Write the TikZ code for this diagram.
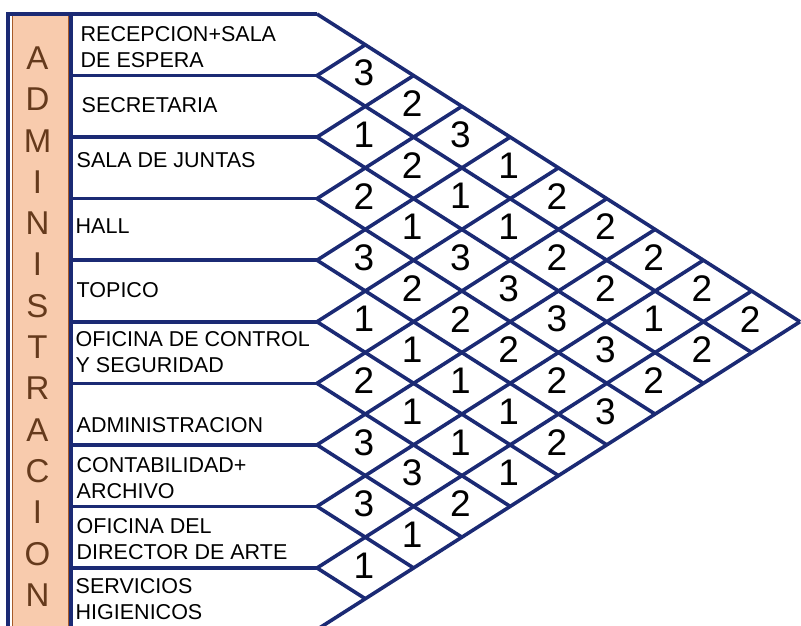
\documentclass[tikz,border=0pt]{standalone}
\usepackage{fontspec}
\setmainfont{Liberation Sans}
\definecolor{navy}{HTML}{1B2A74}
\definecolor{peach}{HTML}{F8CBAD}
\definecolor{rust}{HTML}{A65A28}
\definecolor{brownletter}{HTML}{653A1C}
\tikzset{
  grid/.style={draw=navy, line width=3.6pt, line join=miter},
  lab/.style={anchor=west, align=left, inner sep=0pt, font=\fontsize{21.5}{26}\selectfont},
  num/.style={inner sep=0pt, font=\fontsize{37}{37}\selectfont},
  colbox/.style={fill=peach, draw=rust, line width=1.6pt},
}
\begin{document}
\begin{tikzpicture}[x=1pt,y=-1pt]
\useasboundingbox (0,0) rectangle (801,625);
\pgfmathsetmacro\bz{14}
\pgfmathsetmacro\h{61.55}
\pgfmathsetmacro\w{48.3}
\pgfmathsetmacro\xo{317}
% column box
\draw[colbox] (12.5,15.5) rectangle (68.5,645);
\node[align=center, inner sep=0pt, text=brownletter, font=\fontsize{33}{41.3}\selectfont] (col) at (37.5,326.5)
  {A\\D\\M\\I\\N\\I\\S\\T\\R\\A\\C\\I\\O\\N};
% lattice coordinates
\foreach \k in {0,...,10} {
  \pgfmathsetmacro\yk{\bz+\k*\h}
  \coordinate (v\k) at (\xo,\yk);
  \coordinate (l\k) at (71,\yk);
  \pgfmathsetmacro\ux{\xo+\k*\w}
  \pgfmathsetmacro\uy{\bz+\k*\h/2}
  \coordinate (u\k) at (\ux,\uy);
  \pgfmathsetmacro\rx{\xo+(10-\k)*\w}
  \pgfmathsetmacro\ry{\bz+5*\h+\k*\h/2}
  \coordinate (r\k) at (\rx,\ry);
}
\coordinate (tl) at (8,\bz);
\coordinate (bl) at (8,645);
\coordinate (bm) at (71,645);
\draw[grid] (bl) -- (tl) -- (v0);
\draw[grid] (l0) -- (bm);
\foreach \k in {1,...,10} {
  \draw[grid] (l\k) -- (v\k);
}
\foreach \k in {0,...,9} {
  \draw[grid] (v\k) -- (r\k);
}
\foreach \k in {1,...,10} {
  \draw[grid] (v\k) -- (u\k);
}
% relationship values
\foreach \i/\j/\v in {
 1/2/3,1/3/2,1/4/3,1/5/1,1/6/2,1/7/2,1/8/2,1/9/2,1/10/2,
 2/3/1,2/4/2,2/5/1,2/6/1,2/7/2,2/8/2,2/9/1,2/10/2,
 3/4/2,3/5/1,3/6/3,3/7/3,3/8/3,3/9/3,3/10/2,
 4/5/3,4/6/2,4/7/2,4/8/2,4/9/2,4/10/3,
 5/6/1,5/7/1,5/8/1,5/9/1,5/10/2,
 6/7/2,6/8/1,6/9/1,6/10/1,
 7/8/3,7/9/3,7/10/2,
 8/9/3,8/10/1,
 9/10/1} {
  \pgfmathsetmacro\nx{\xo+(\j-\i)*\w-1.5}
  \pgfmathsetmacro\ny{\bz+(\i+\j-1)*\h/2-2.5}
  \node[num] (n\i-\j) at (\nx,\ny) {\v};
}
% labels
\node[lab] (t1) at (80.5,47.5) {RECEPCION+SALA\\DE ESPERA};
\node[lab] (t2) at (81.5,105.5) {SECRETARIA};
\node[lab] (t3) at (76.5,160.5) {SALA DE JUNTAS};
\node[lab] (t4) at (75.5,226.5) {HALL};
\node[lab] (t5) at (76.5,290) {TOPICO};
\node[lab] (t6) at (75.5,352) {OFICINA DE CONTROL\\Y SEGURIDAD};
\node[lab] (t7) at (76.5,425) {ADMINISTRACION};
\node[lab] (t8) at (76.5,478) {CONTABILIDAD+\\ARCHIVO};
\node[lab] (t9) at (76.5,539) {OFICINA DEL\\DIRECTOR DE ARTE};
\node[lab] (t10) at (75.5,599.5) {SERVICIOS\\HIGIENICOS};
\end{tikzpicture}
\end{document}
